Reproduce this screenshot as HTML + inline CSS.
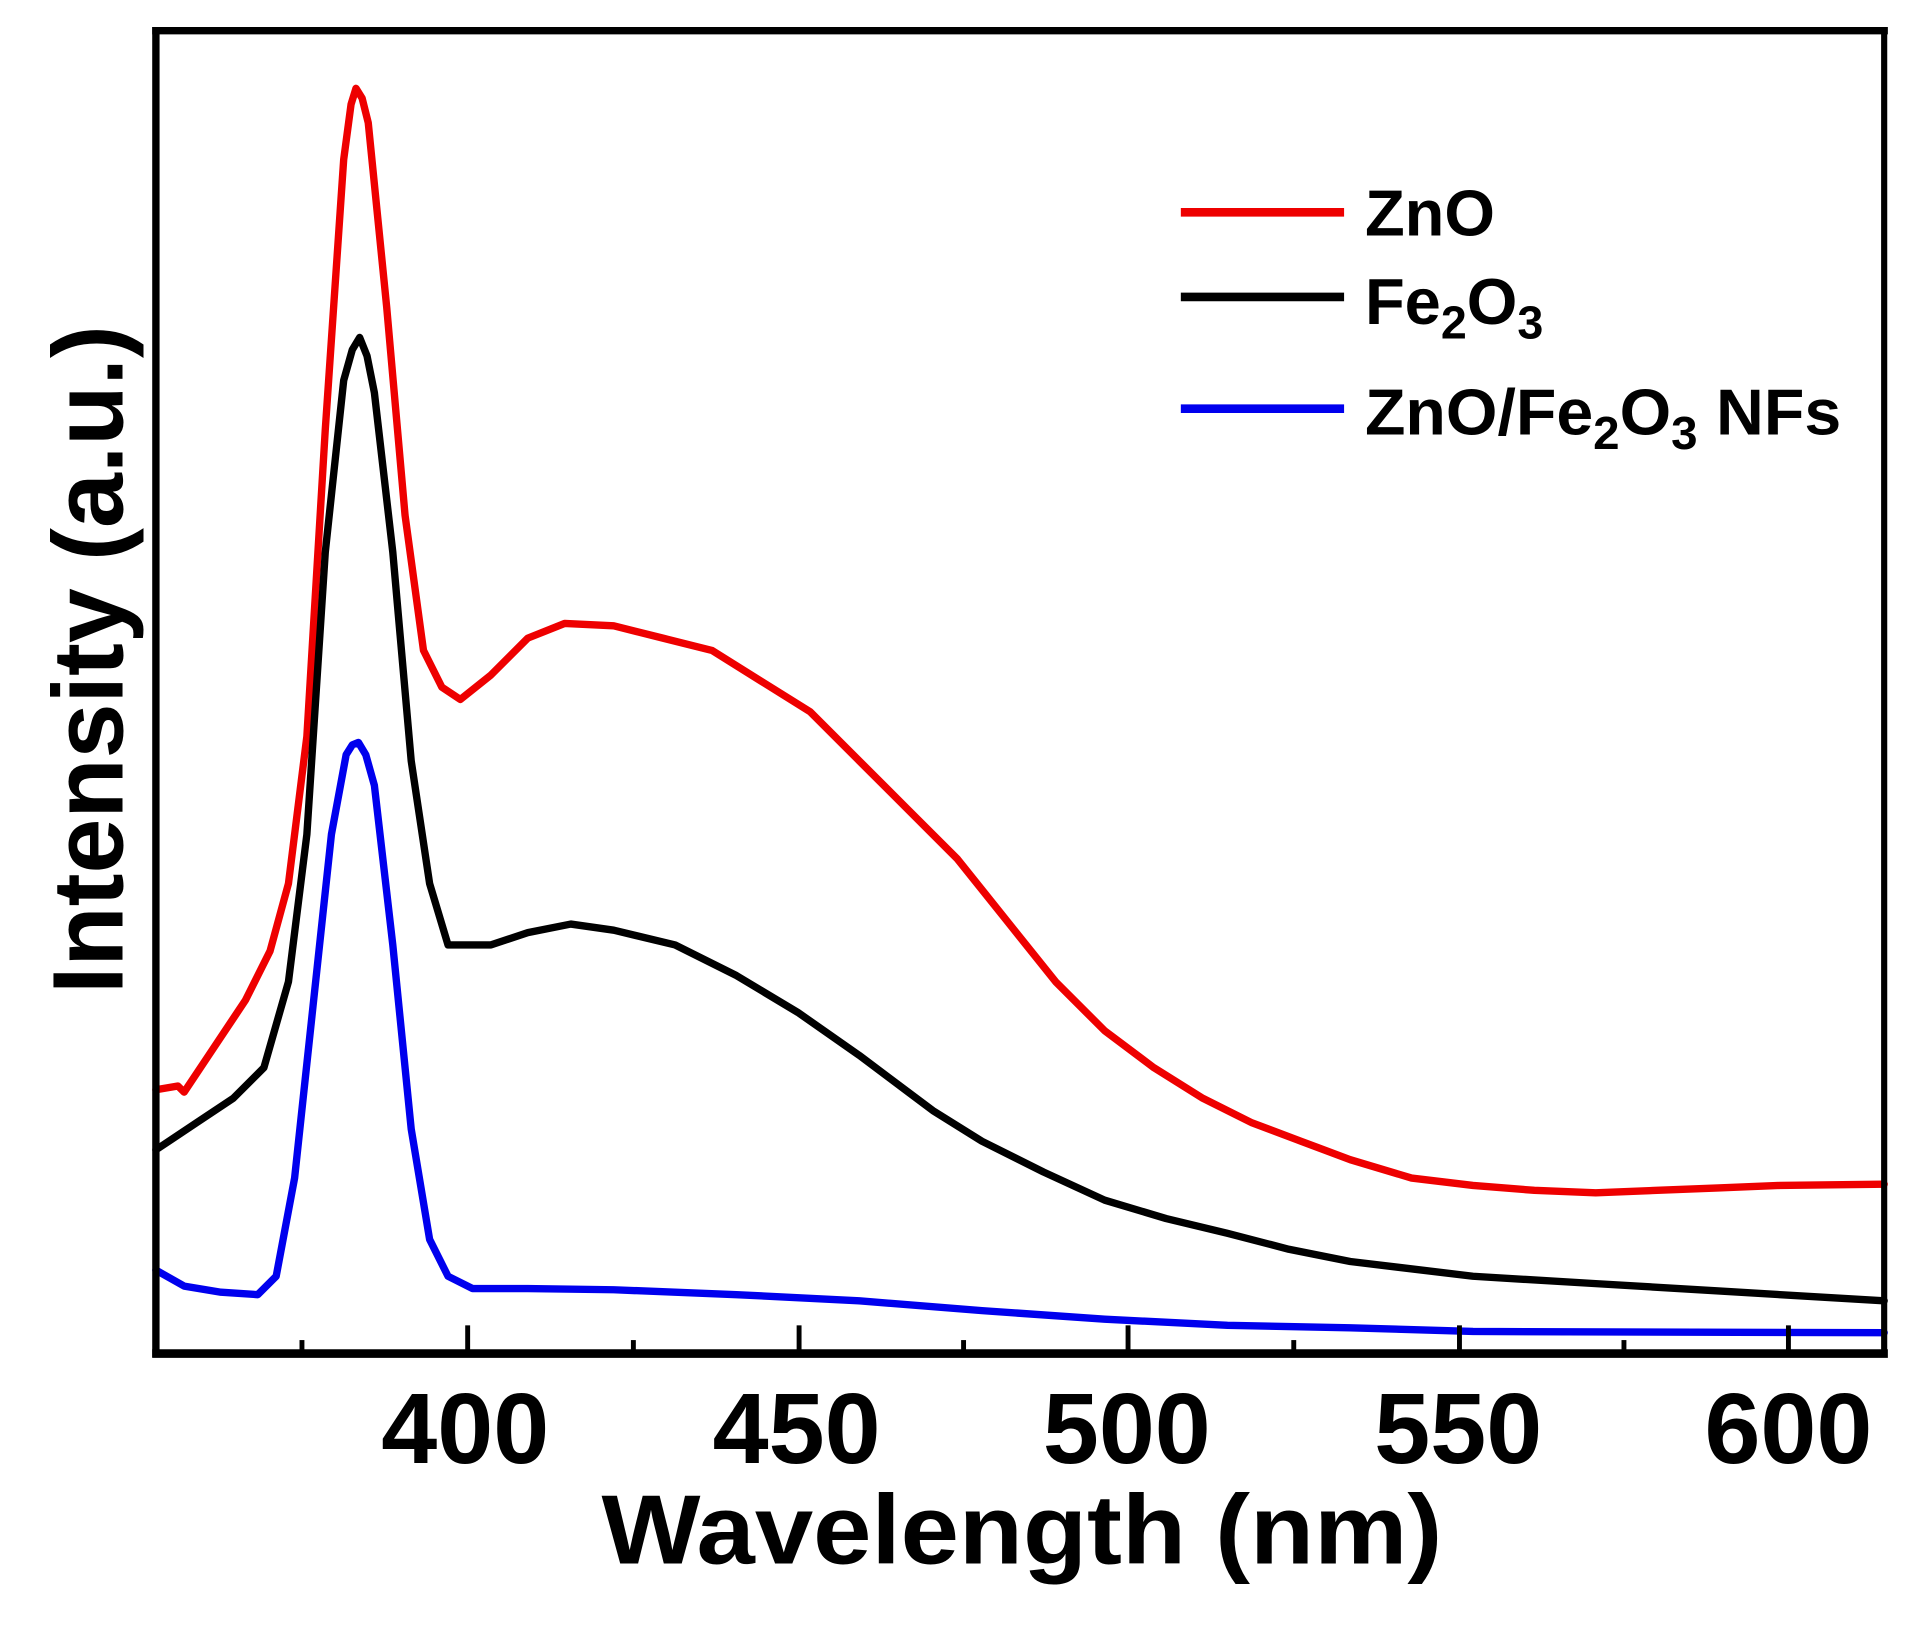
<!DOCTYPE html>
<html><head><meta charset="utf-8"><style>html,body{margin:0;padding:0;background:#fff}svg{display:block}</style></head>
<body>
<svg width="1921" height="1626" viewBox="0 0 1565 1325" preserveAspectRatio="none" xmlns="http://www.w3.org/2000/svg">
<rect width="1565" height="1325" fill="#fff"/>
<g fill="none" stroke-linejoin="round" stroke-linecap="round" stroke-width="6">
<polyline stroke="#ee0000" points="127,888 145,885 150,890 170,860 200,815 220,775 235,720 250,600 265,350 280,130 286,85 290,72 295,80 300,100 315,250 330,420 345,530 360,560 375,570 400,550 430,520 460,508 500,510 540,520 580,530 620,555 660,580 700,620 740,660 780,700 820,750 860,800 900,840 940,870 980,895 1020,915 1060,930 1100,945 1150,960 1200,966 1250,970 1300,972 1350,970 1400,968 1450,966 1535,965"/>
<polyline stroke="#000" points="127,937 160,915 190,895 215,870 235,800 250,680 265,450 280,310 287,285 293,275 299,290 305,320 320,450 335,620 350,720 365,770 400,770 430,760 465,753 500,758 550,770 600,795 650,825 700,860 740,890 760,905 800,930 850,955 900,978 950,993 1000,1005 1050,1018 1100,1028 1200,1040 1300,1046 1400,1052 1535,1060"/>
<polyline stroke="#0000ee" points="127,1035 150,1048 180,1053 210,1055 225,1040 240,960 255,820 270,680 282,615 287,607 292,605 298,615 305,640 320,770 335,920 350,1010 365,1040 385,1050 430,1050 500,1051 600,1055 700,1060 800,1068 900,1075 1000,1080 1100,1082 1200,1085 1535,1086"/>
</g>
<g stroke="#000" fill="none">
<line x1="124" y1="25" x2="1538" y2="25" stroke-width="6"/>
<line x1="127" y1="22" x2="127" y2="1106" stroke-width="6"/>
<line x1="1535" y1="22" x2="1535" y2="1106" stroke-width="5"/>
<line x1="124" y1="1103" x2="1538" y2="1103" stroke-width="7"/>
<g stroke-width="4">
<line x1="381" y1="1103" x2="381" y2="1080"/><line x1="651" y1="1103" x2="651" y2="1080"/><line x1="919" y1="1103" x2="919" y2="1080"/><line x1="1189" y1="1103" x2="1189" y2="1080"/><line x1="1457" y1="1103" x2="1457" y2="1080"/>
<line x1="246" y1="1103" x2="246" y2="1092"/><line x1="516" y1="1103" x2="516" y2="1092"/><line x1="785" y1="1103" x2="785" y2="1092"/><line x1="1054" y1="1103" x2="1054" y2="1092"/><line x1="1323" y1="1103" x2="1323" y2="1092"/>
</g>
</g>
<g font-family="Liberation Sans, sans-serif" font-weight="bold" fill="#000">
<g font-size="82" text-anchor="middle">
<text x="379" y="1192">400</text><text x="649" y="1192">450</text><text x="918" y="1192">500</text><text x="1188" y="1192">550</text><text x="1457" y="1192">600</text>
</g>
<text x="490" y="1274" font-size="80" textLength="685" lengthAdjust="spacingAndGlyphs">Wavelength (nm)</text>
<text transform="translate(100,810) rotate(-90)" font-size="82" textLength="545" lengthAdjust="spacingAndGlyphs">Intensity (a.u.)</text>
<g font-size="53">
<line x1="962" y1="173" x2="1095" y2="173" stroke="#ee0000" stroke-width="7"/>
<line x1="962" y1="242" x2="1095" y2="242" stroke="#000" stroke-width="7"/>
<line x1="962" y1="333" x2="1095" y2="333" stroke="#0000ee" stroke-width="7"/>
<text x="1112" y="192">ZnO</text>
<text x="1112" y="264">Fe<tspan font-size="38" dy="12">2</tspan><tspan dy="-12">O</tspan><tspan font-size="38" dy="12">3</tspan></text>
<text x="1112" y="354" textLength="388" lengthAdjust="spacingAndGlyphs">ZnO/Fe<tspan font-size="38" dy="12">2</tspan><tspan dy="-12">O</tspan><tspan font-size="38" dy="12">3</tspan><tspan dy="-12"> NFs</tspan></text>
</g>
</g>
</svg>
</body></html>
